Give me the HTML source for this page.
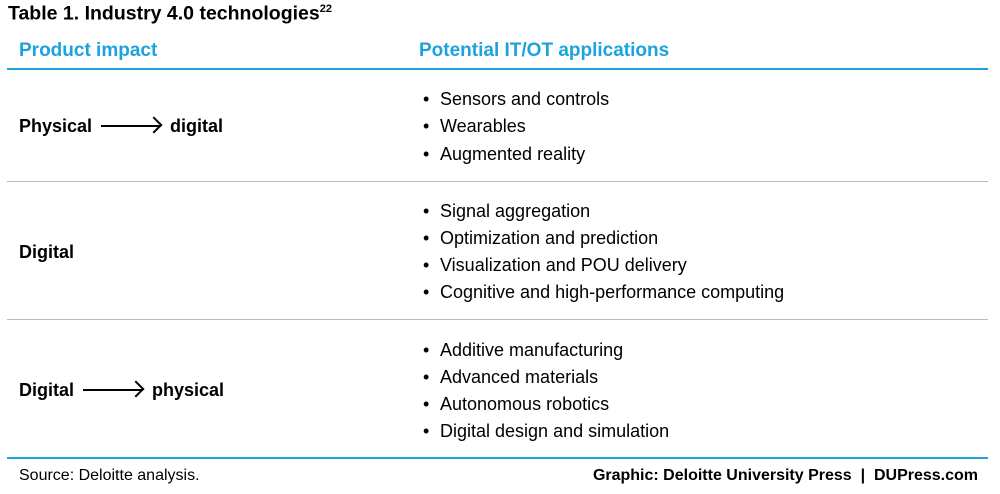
<!DOCTYPE html>
<html><head><style>
body{margin:0;width:1000px;height:494px;background:#fff;font-family:"Liberation Sans",sans-serif;color:#000;position:relative;overflow:hidden}
.a{position:absolute;white-space:nowrap;line-height:1}
.t{font-size:19.5px;font-weight:bold}
.h{font-size:19px;font-weight:bold;color:#1ca3dd}
.b{font-size:18px;font-weight:bold}
.i{font-size:18px}
.i:before{content:"•";position:absolute;left:-17px}
.f{font-size:16px}
.line{position:absolute;left:7px;width:981px}
.arr{display:inline-block;width:60px;height:2px;background:#000;vertical-align:middle;margin:0 9px;position:relative;top:-1px}
.arr:after{content:"";position:absolute;right:1px;top:-6px;width:10px;height:10px;border-top:2px solid #000;border-right:2px solid #000;transform:rotate(45deg)}
</style></head><body>
<div class="a t" style="left:8px;top:4px">Table 1. Industry 4.0 technologies<sup style="font-size:11px">22</sup></div>
<div class="a h" style="left:19px;top:41px">Product impact</div>
<div class="a h" style="left:419px;top:41px">Potential IT/OT applications</div>
<div class="line" style="top:68px;height:2px;background:#1ca3dd"></div>
<div class="line" style="top:181px;height:1px;background:#bbb"></div>
<div class="line" style="top:319px;height:1px;background:#bbb"></div>
<div class="line" style="top:457px;height:2px;background:#1ca3dd"></div>
<div class="a b" style="left:19px;top:117px">Physical<span class="arr"></span>digital</div>
<div class="a b" style="left:19px;top:243px">Digital</div>
<div class="a b" style="left:19px;top:381px">Digital<span class="arr"></span>physical</div>
<div class="a i" style="left:440px;top:90px">Sensors and controls</div>
<div class="a i" style="left:440px;top:117px">Wearables</div>
<div class="a i" style="left:440px;top:145px">Augmented reality</div>
<div class="a i" style="left:440px;top:202px">Signal aggregation</div>
<div class="a i" style="left:440px;top:229px">Optimization and prediction</div>
<div class="a i" style="left:440px;top:256px">Visualization and POU delivery</div>
<div class="a i" style="left:440px;top:283px">Cognitive and high-performance computing</div>
<div class="a i" style="left:440px;top:341px">Additive manufacturing</div>
<div class="a i" style="left:440px;top:368px">Advanced materials</div>
<div class="a i" style="left:440px;top:395px">Autonomous robotics</div>
<div class="a i" style="left:440px;top:422px">Digital design and simulation</div>
<div class="a f" style="left:19px;top:468px">Source: Deloitte analysis.</div>
<div class="a f" style="right:22px;top:468px;font-weight:bold">Graphic: Deloitte University Press &nbsp;|&nbsp; DUPress.com</div>
</body></html>
